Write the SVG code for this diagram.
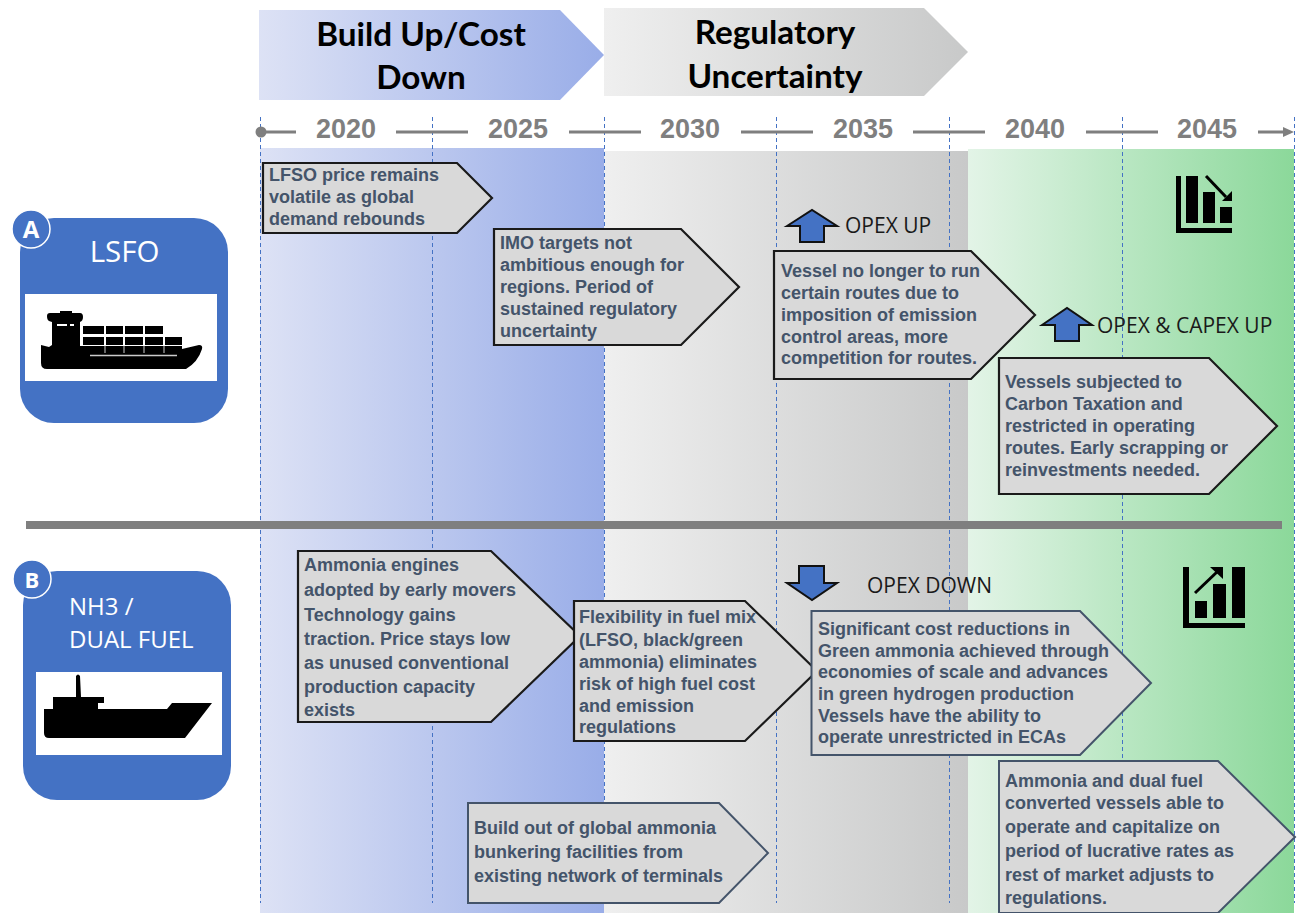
<svg xmlns="http://www.w3.org/2000/svg" width="1300" height="913" viewBox="0 0 1300 913">
<style>
.c{fill:#d9d9d9;stroke:#1a1a1a;stroke-width:2.2}
.cb{fill:#d9d9d9;stroke:#44546a;stroke-width:2}
.t{font:bold 18px "Liberation Sans",Arial,sans-serif;fill:#44546a}
.y{font:bold 27px "Liberation Sans",Arial,sans-serif;fill:#7f7f7f;text-anchor:middle}
.h{font:bold 33.300px Lato,"Open Sans",sans-serif;fill:#000;text-anchor:middle}
.o{font:21px "Open Sans",Lato,sans-serif;fill:#1a1a1a}
.w{font:24px "Open Sans",Lato,sans-serif;fill:#fff}
.g{stroke:#7f7f7f;stroke-width:3;fill:none}
.d{stroke:#4472c4;stroke-width:1;stroke-dasharray:4 3;fill:none}
.a{fill:#4472c4;stroke:#111;stroke-width:2}
.n{fill:#4472c4}
.k{fill:#000}
</style>
<defs>
<linearGradient id="bl"><stop offset="0" stop-color="#dde2f5"/><stop offset="1" stop-color="#99ade8"/></linearGradient>
<linearGradient id="gr"><stop offset="0" stop-color="#efefef"/><stop offset="1" stop-color="#c8c9c9"/></linearGradient>
<linearGradient id="gn"><stop offset="0" stop-color="#e3f4e7"/><stop offset="1" stop-color="#8bd89a"/></linearGradient>
</defs>
<g id="bands">
<rect x="260" y="148" width="344" height="765" fill="url(#bl)"/>
<rect x="604" y="151" width="364" height="762" fill="url(#gr)"/>
<rect x="968" y="149" width="326" height="764" fill="url(#gn)"/>
</g>
<g id="phase-build"><path d="M259 10H560L604 55L560 100H259Z" fill="url(#bl)"/><text class="h" x="421" y="45.500">Build Up/Cost</text><text class="h" x="421" y="88.500">Down</text></g>
<g id="phase-reg"><path d="M604 8H924L968 52L924 96H604Z" fill="url(#gr)"/><text class="h" x="775" y="43.500">Regulatory</text><text class="h" x="775" y="87.500">Uncertainty</text></g>
<g id="connectors">
<g class="d"><path d="M260.500 117V903M432.500 117V903M604.500 117V903M776.500 117V903M949.500 117V903M1122.500 117V903M1294.500 117V903"/></g>
<circle cx="261" cy="132" r="5.500" fill="#7f7f7f"/>
<path class="g" d="M261 132H296M396 132H468M569 132H641M741 132H813M913 132H985M1086 132H1158M1258 132H1285"/>
<path d="M1283 127L1294 132L1283 137Z" fill="#7f7f7f"/>
<path d="M26 525H1282" stroke="#7f7f7f" stroke-width="8"/>
</g>
<g id="years"><text class="y" x="346" y="138">2020</text><text class="y" x="518" y="138">2025</text><text class="y" x="690" y="138">2030</text><text class="y" x="863" y="138">2035</text><text class="y" x="1035" y="138">2040</text><text class="y" x="1207" y="138">2045</text></g>
<g id="node-a"><rect x="20" y="218" width="208" height="205" rx="34" class="n"/><circle cx="31" cy="229" r="19" class="n" stroke="#fff" stroke-width="1.500"/><text x="31" y="238" font-family="Open Sans,sans-serif" font-weight="bold" font-size="24" fill="#fff" text-anchor="middle">A</text><text class="w" style="font-size:29.500px" x="124.500" y="262" text-anchor="middle">LSFO</text><rect x="25" y="294" width="192" height="87" fill="#fff"/>
<path class="k" d="M47 316Q47 313 50 313H60V311H72V313H80Q83 313 83 317Q83 321 80 322V346H182V349L199 345Q203 345 202 349Q198 362 186 369H47Q41 369 41 363V345L49 347L52 345V322L49 321Q47 320 47 316Z"/>
<g fill="#000"><rect x="83" y="326" width="21" height="8"/><rect x="106" y="326" width="17" height="8"/><rect x="125" y="326" width="18" height="8"/><rect x="145" y="326" width="18" height="8"/><rect x="83" y="337" width="21" height="8"/><rect x="106" y="337" width="17" height="8"/><rect x="125" y="337" width="18" height="8"/><rect x="145" y="337" width="18" height="8"/><rect x="165" y="337" width="17" height="8"/></g>
<path d="M57 325H67M70 325H74" stroke="#fff" stroke-width="2"/><path d="M90 355.500H177" stroke="#ccc" stroke-width="1.500"/><path d="M105 346V353M124 346V353M144 346V353M164 346V353" stroke="#ccc" stroke-width="1"/></g>
<g id="node-b"><rect x="23" y="571" width="208" height="229" rx="34" class="n"/><circle cx="32" cy="579" r="19" class="n" stroke="#fff" stroke-width="1.500"/><text x="32" y="588" font-family="Open Sans,sans-serif" font-weight="bold" font-size="22" fill="#fff" text-anchor="middle">B</text><text class="w" x="69" y="615">NH3 /</text><text class="w" x="69" y="648">DUAL FUEL</text><rect x="36" y="672" width="186" height="83" fill="#fff"/>
<path class="k" d="M76 676Q78 673 80 676L81 697H104V703H98V709H167L172 703H212L185 738H49Q44 738 44 733V709H53V697H76Z"/></g>
<g id="chart-down"><path class="k" d="M1176 176H1181V228H1232V233H1176Z"/><rect x="1186" y="176" width="12" height="47"/><rect x="1203" y="192" width="12" height="31"/><rect x="1220" y="207" width="12" height="16"/><path d="M1206 176L1226 197" stroke="#000" stroke-width="3"/><path d="M1232 191V201H1222Z" class="k"/></g>
<g id="chart-up"><path class="k" d="M1183 567H1189V623H1245V628H1183Z"/><rect x="1195" y="601" width="12" height="17"/><rect x="1213" y="584" width="13" height="34"/><rect x="1232" y="567" width="13" height="51"/><path d="M1195 593L1218 571" stroke="#000" stroke-width="3"/><path d="M1210 567H1223V579Z" class="k"/></g>
<g id="opex-up"><path class="a" d="M787 226L812 210L837 226H824V242H800V226Z"/><text class="o" x="845" y="233">OPEX UP</text></g>
<g id="opex-capex"><path class="a" d="M1042 325L1067 308L1092 325H1079V341H1055V325Z"/><text class="o" x="1097" y="333">OPEX &amp; CAPEX UP</text></g>
<g id="opex-down"><path class="a" d="M799 566H824V583H837L812 600L787 583H799Z"/><text class="o" x="867" y="593">OPEX DOWN</text></g>
<g id="s1"><path class="c" d="M263 163H457L492 198L457 233H263Z"/><text class="t" x="269" y="181">LFSO price remains</text><text class="t" x="269" y="203">volatile as global</text><text class="t" x="269" y="225">demand rebounds</text></g>
<g id="s2"><path class="c" d="M494 229H681L739 287L681 345H494Z"/><text class="t" x="500" y="249">IMO targets not</text><text class="t" x="500" y="271">ambitious enough for</text><text class="t" x="500" y="293">regions. Period of</text><text class="t" x="500" y="315">sustained regulatory</text><text class="t" x="500" y="337">uncertainty</text></g>
<g id="s3"><path class="c" d="M774 251H971L1035 315L971 379H774Z"/><text class="t" x="781" y="277">Vessel no longer to run</text><text class="t" x="781" y="299">certain routes due to</text><text class="t" x="781" y="321">imposition of emission</text><text class="t" x="781" y="343">control areas, more</text><text class="t" x="781" y="364">competition for routes.</text></g>
<g id="s4"><path class="c" d="M999 358H1209L1277 426L1209 494H999Z"/><text class="t" x="1005" y="388">Vessels subjected to</text><text class="t" x="1005" y="410">Carbon Taxation and</text><text class="t" x="1005" y="432">restricted in operating</text><text class="t" x="1005" y="454">routes. Early scrapping or</text><text class="t" x="1005" y="476">reinvestments needed.</text></g>
<g id="s5"><path class="c" d="M298 551H491L580 636L491 722H298Z"/><text class="t" x="304" y="571">Ammonia engines</text><text class="t" x="304" y="596">adopted by early movers</text><text class="t" x="304" y="621">Technology gains</text><text class="t" x="304" y="645">traction. Price stays low</text><text class="t" x="304" y="669">as unused conventional</text><text class="t" x="304" y="693">production capacity</text><text class="t" x="304" y="716">exists</text></g>
<g id="s6"><path class="c" d="M574 601H745L817 671L745 741H574Z"/><text class="t" x="579" y="623">Flexibility in fuel mix</text><text class="t" x="579" y="646">(LFSO, black/green</text><text class="t" x="579" y="668">ammonia) eliminates</text><text class="t" x="579" y="690">risk of high fuel cost</text><text class="t" x="579" y="712">and emission</text><text class="t" x="579" y="733">regulations</text></g>
<g id="s7"><path class="cb" d="M811.500 611H1080L1151 683L1080 755H811.500Z"/><text class="t" x="818" y="635">Significant cost reductions in</text><text class="t" x="818" y="657">Green ammonia achieved through</text><text class="t" x="818" y="678">economies of scale and advances</text><text class="t" x="818" y="700">in green hydrogen production</text><text class="t" x="818" y="722">Vessels have the ability to</text><text class="t" x="818" y="743">operate unrestricted in ECAs</text></g>
<g id="s8"><path class="cb" d="M468 803H719L768 853L719 903H468Z"/><text class="t" x="474" y="834">Build out of global ammonia</text><text class="t" x="474" y="858">bunkering facilities from</text><text class="t" x="474" y="882">existing network of terminals</text></g>
<g id="s9"><path class="cb" d="M999 761H1218L1295 837L1218 913H999Z"/><text class="t" x="1005" y="787">Ammonia and dual fuel</text><text class="t" x="1005" y="809">converted vessels able to</text><text class="t" x="1005" y="833">operate and capitalize on</text><text class="t" x="1005" y="857">period of lucrative rates as</text><text class="t" x="1005" y="881">rest of market adjusts to</text><text class="t" x="1005" y="904">regulations.</text></g>
</svg>
